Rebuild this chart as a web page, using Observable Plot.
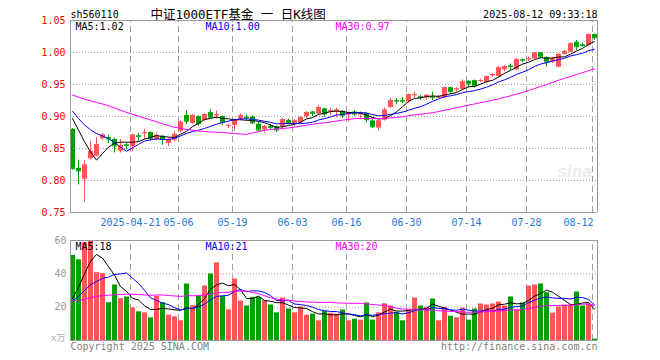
<!DOCTYPE html>
<html><head><meta charset="utf-8">
<script src="https://cdn.jsdelivr.net/npm/d3@7"></script>
<script src="https://cdn.jsdelivr.net/npm/@observablehq/plot@0.6"></script>
<style>
body{margin:0;background:#fff;}
#wrap{width:660px;height:360px;overflow:hidden;background:#fff;}
#wrap svg{display:block;}
</style></head><body>
<div id="wrap"></div>
<script>
const dates = [
"2025-04-07","2025-04-08","2025-04-09","2025-04-10","2025-04-11","2025-04-14","2025-04-15","2025-04-16","2025-04-17","2025-04-18",
"2025-04-21","2025-04-22","2025-04-23","2025-04-24","2025-04-25","2025-04-28","2025-04-29","2025-04-30",
"2025-05-06","2025-05-07","2025-05-08","2025-05-09","2025-05-12","2025-05-13","2025-05-14","2025-05-15","2025-05-16",
"2025-05-19","2025-05-20","2025-05-21","2025-05-22","2025-05-23","2025-05-26","2025-05-27","2025-05-28","2025-05-29","2025-05-30",
"2025-06-03","2025-06-04","2025-06-05","2025-06-06","2025-06-09","2025-06-10","2025-06-11","2025-06-12","2025-06-13",
"2025-06-16","2025-06-17","2025-06-18","2025-06-19","2025-06-20","2025-06-23","2025-06-24","2025-06-25","2025-06-26","2025-06-27",
"2025-06-30","2025-07-01","2025-07-02","2025-07-03","2025-07-04","2025-07-07","2025-07-08","2025-07-09","2025-07-10","2025-07-11",
"2025-07-14","2025-07-15","2025-07-16","2025-07-17","2025-07-18","2025-07-21","2025-07-22","2025-07-23","2025-07-24","2025-07-25",
"2025-07-28","2025-07-29","2025-07-30","2025-07-31","2025-08-01","2025-08-04","2025-08-05","2025-08-06","2025-08-07","2025-08-08",
"2025-08-11","2025-08-12"];

const open = [0.880,0.819,0.802,0.834,0.838,0.865,0.867,0.864,0.846,0.856,
0.853,0.870,0.873,0.875,0.864,0.869,0.858,0.863,0.877,0.9015,
0.889,0.900,0.894,0.906,0.901,0.900,0.885,0.886,0.896,0.899,
0.899,0.888,0.879,0.885,0.884,0.884,0.894,0.888,0.890,0.8995,
0.907,0.904,0.912,0.907,0.908,0.908,0.902,0.907,0.903,0.905,
0.893,0.882,0.894,0.914,0.925,0.925,0.923,0.933,0.931,0.929,
0.931,0.929,0.929,0.945,0.942,0.942,0.955,0.956,0.955,0.953,
0.964,0.9625,0.973,0.979,0.973,0.989,0.989,0.990,0.9995,0.992,
0.985,0.977,0.997,1.0005,1.016,1.012,1.011,1.028];

const high = [0.881,0.832,0.831,0.861,0.867,0.874,0.871,0.866,0.864,0.858,
0.872,0.874,0.880,0.876,0.874,0.870,0.866,0.876,0.893,0.909,
0.903,0.901,0.904,0.911,0.909,0.901,0.888,0.896,0.904,0.902,
0.901,0.891,0.886,0.888,0.885,0.897,0.896,0.895,0.900,0.908,
0.908,0.917,0.913,0.913,0.913,0.909,0.907,0.909,0.907,0.906,
0.895,0.893,0.913,0.928,0.928,0.930,0.935,0.938,0.933,0.934,
0.938,0.933,0.946,0.946,0.945,0.957,0.956,0.957,0.958,0.963,
0.967,0.978,0.979,0.982,0.991,0.990,0.993,1.000,1.000,0.993,
0.992,0.998,1.003,1.015,1.019,1.015,1.029,1.029];

const low = [0.816,0.793,0.766,0.832,0.837,0.863,0.858,0.843,0.843,0.848,
0.845,0.861,0.864,0.861,0.862,0.855,0.853,0.861,0.874,0.887,
0.888,0.885,0.892,0.897,0.896,0.886,0.881,0.877,0.893,0.894,
0.887,0.877,0.874,0.879,0.875,0.879,0.887,0.884,0.889,0.897,
0.900,0.903,0.899,0.901,0.898,0.897,0.891,0.900,0.895,0.890,
0.881,0.878,0.893,0.913,0.918,0.920,0.921,0.928,0.925,0.925,
0.925,0.928,0.928,0.935,0.938,0.941,0.945,0.944,0.953,0.952,
0.961,0.961,0.970,0.972,0.972,0.984,0.986,0.989,0.991,0.977,
0.983,0.976,0.996,1.000,1.003,1.008,1.010,1.019];

const close = [0.819,0.815,0.824,0.845,0.856,0.871,0.865,0.854,0.854,0.855,
0.871,0.869,0.875,0.866,0.870,0.864,0.864,0.872,0.891,0.8925,
0.9015,0.889,0.903,0.899,0.903,0.891,0.886,0.894,0.901,0.898,
0.890,0.879,0.884,0.883,0.879,0.895,0.889,0.893,0.898,0.906,
0.905,0.914,0.904,0.909,0.910,0.902,0.906,0.904,0.904,0.895,
0.884,0.893,0.910,0.925,0.924,0.924,0.934,0.934,0.930,0.933,
0.930,0.930,0.945,0.939,0.943,0.954,0.951,0.948,0.956,0.9625,
0.965,0.976,0.978,0.978,0.989,0.988,0.990,0.999,0.993,0.985,
0.990,0.997,1.0015,1.0135,1.009,1.011,1.028,1.023];

// volume in 万手
const volume = [51.0,48.4,58.5,59.5,40.7,40.1,22.7,33.3,25.1,26.1,
19.6,17.2,16.6,13.6,26.5,22.7,15.2,14.2,11.8,33.9,
20.8,26.7,32.7,39.9,46.6,26.5,18.4,36.9,23.7,20.7,
25.9,25.9,23.9,21.3,16.6,25.5,18.9,16.6,20.1,15.2,
15.8,11.8,17.5,16.3,15.8,18.3,11.8,12.8,12.2,22.5,
12.2,16.6,22.0,20.7,17.0,11.8,18.4,25.5,20.7,19.9,
24.9,11.8,19.9,14.6,13.6,19.3,12.2,18.9,21.9,21.3,
21.9,23.1,20.7,26.1,18.3,22.5,32.7,33.3,33.9,28.7,
16.4,20.1,21.3,21.3,29.1,20.7,21.9,0.8];

// sessions before the first visible bar (feed the moving averages only)
const priorClose = [0.918,0.915,0.922,0.930,0.945,0.952,0.958,0.955,0.960,0.957,0.962,0.958,0.955,0.960,0.953,0.950,0.948,0.945,0.942,0.938,0.930,0.925,0.920,0.915,0.910,0.905,0.915,0.925,0.920];
const priorVolume = [45,40,24,22,20,21,23,22,19,20,24,22,21,20,23,25,22,21,20,22,24,22,25,21,21,15,18,22,20];

const tickDates = ["2025-04-21","2025-05-06","2025-05-19","2025-06-03","2025-06-16","2025-06-30","2025-07-14","2025-07-28","2025-08-12"];
const priceTicks = [0.75,0.80,0.85,0.90,0.95,1.00,1.05];
const volumeTicks = [20,40,60];
const maPeriods = [5,10,30];
const maColors = ["#000000","#0000ff","#ff00ff"];
const priceMaText = ["MA5:1.02","MA10:1.00","MA30:0.97"];
const volumeMaText = ["MA5:18","MA10:21","MA30:20"];
const titleCode = "sh560110";
const titleName = "中证1000ETF基金 一 日K线图";
const timeStamp = "2025-08-12 09:33:18";
const copyright = "Copyright 2025 SINA.COM";
const siteUrl = "http://finance.sina.com.cn";
const volumeUnit = "x万";

const UP = "#ff5555", DOWN = "#00a000";
const MONO = "DejaVu Sans Mono";
const GRID = "#a0a0a0";

const bars = dates.map((d, i) => ({
  i, date: d, o: open[i], h: high[i], l: low[i], c: close[i], v: volume[i],
  col: close[i] >= open[i] ? UP : DOWN
}));

function movingAverage(prior, vals, n) {
  const all = prior.concat(vals);
  return vals.map((_, i) => {
    const end = prior.length + i + 1;
    return d3.mean(all.slice(end - n, end));
  });
}
function maRows(prior, vals) {
  const rows = [];
  maPeriods.forEach((n, k) => {
    movingAverage(prior, vals, n).forEach((v, i) => rows.push({i, v, k, color: maColors[k]}));
  });
  return rows;
}
const priceMA = maRows(priorClose, close);
const volumeMA = maRows(priorVolume, volume);

const ticks = tickDates.map((d, j) => ({i: dates.indexOf(d), label: j === 0 ? d : d.slice(5)}));
const N = dates.length;
const xEnd = N - 1/6;
const cx = d => d.i + 1/3;

const base = {
  width: 660, marginLeft: 70, marginRight: 62,
  x: {domain: [0, N], axis: null},
  color: {type: "identity"},
  style: {fontFamily: MONO, fontSize: "10px", background: "transparent", overflow: "visible"}
};

function frameMarks(y0, y1) {
  return [
    Plot.ruleY([y0, y1], {x1: 0, x2: xEnd, stroke: "#999"}),
    Plot.ruleX([0, xEnd], {y1: y0, y2: y1, stroke: "#999"})
  ];
}
function maLabels(texts) {
  return texts.map((t, j) => Plot.text([t], {
    frameAnchor: "top-left", textAnchor: "start", lineAnchor: "bottom",
    dx: 5 + 130 * j, dy: 9.5, fill: maColors[j], fontFamily: MONO, fontSize: 10
  }));
}

const pricePlot = Plot.plot({
  ...base,
  height: 230, marginTop: 20, marginBottom: 18,
  y: {domain: [0.75, 1.05], axis: null},
  marks: [
    Plot.ruleY(priceTicks.slice(1, -1), {x1: 0, x2: xEnd, stroke: GRID, strokeDasharray: "1,2"}),
    Plot.ruleX(ticks, {x: "i", y1: 0.75, y2: 1.05, stroke: GRID, strokeDasharray: "6,4"}),
    Plot.text(["sina"], {frameAnchor: "top-right", textAnchor: "end", dx: -6, dy: 146, fill: "#ececec", fontFamily: "DejaVu Sans", fontWeight: "bold", fontStyle: "italic", fontSize: 15}),
    Plot.ruleX(bars, {x: cx, y1: "l", y2: "h", stroke: "col"}),
    Plot.rect(bars, {x1: "i", x2: d => d.i + 1, y1: d => Math.min(d.o, d.c), y2: d => Math.max(d.o, d.c), fill: "col", insetRight: 1}),
    Plot.ruleY(bars, {y: "c", x1: "i", x2: d => d.i + 5/6, stroke: "col"}),
    Plot.line(priceMA, {x: cx, y: "v", z: "k", stroke: "color", strokeWidth: 1}),
    ...frameMarks(0.75, 1.05),
    Plot.text(priceTicks, {x: 0, y: d => d, text: d => d.toFixed(2), textAnchor: "end", dx: -5, fill: "#ff0000", fontFamily: MONO, fontSize: 10}),
    Plot.text(ticks.slice(0, -1), {x: "i", y: 0.75, text: "label", dy: 10, fill: "#1f78d1", fontFamily: MONO, fontSize: 10}),
    Plot.text(ticks.slice(-1), {x: "i", y: 0.75, text: "label", dy: 10, dx: 1, textAnchor: "end", fill: "#1f78d1", fontFamily: MONO, fontSize: 10}),
    Plot.text([titleCode], {frameAnchor: "top-left", textAnchor: "start", lineAnchor: "bottom", dy: -3, fill: "#000", fontFamily: MONO, fontSize: 10}),
    Plot.text([titleName], {frameAnchor: "top-left", textAnchor: "start", lineAnchor: "bottom", dx: 80, dy: -2, fill: "#000", fontFamily: `${MONO}, "Noto Sans CJK SC"`, fontSize: 12.5}),
    Plot.text([timeStamp], {frameAnchor: "top-right", textAnchor: "end", lineAnchor: "bottom", dx: -1, dy: -3, fill: "#000", fontFamily: MONO, fontSize: 10}),
    ...maLabels(priceMaText)
  ]
});

const volumePlot = Plot.plot({
  ...base,
  height: 130, marginTop: 10, marginBottom: 20,
  y: {domain: [0, 60], axis: null},
  marks: [
    Plot.ruleY(volumeTicks.slice(0, -1), {x1: 0, x2: xEnd, stroke: GRID, strokeDasharray: "1,2"}),
    Plot.ruleX(ticks, {x: "i", y1: 0, y2: 60, stroke: GRID, strokeDasharray: "6,4"}),
    Plot.rectY(bars, {x1: "i", x2: d => d.i + 1, y: "v", fill: "col", insetRight: 1}),
    Plot.line(volumeMA, {x: cx, y: "v", z: "k", stroke: "color", strokeWidth: 1}),
    ...frameMarks(0, 60),
    Plot.text(volumeTicks, {x: 0, y: d => d, text: d => String(d), textAnchor: "end", dx: -4, fill: "#999", fontFamily: MONO, fontSize: 10}),
    Plot.text([volumeUnit], {frameAnchor: "bottom-left", textAnchor: "end", dx: -5, dy: 0, fill: "#aaa", fontFamily: `${MONO}, "Noto Sans CJK SC"`, fontSize: 9}),
    ...maLabels(volumeMaText),
    Plot.text([copyright], {frameAnchor: "bottom-left", textAnchor: "start", lineAnchor: "bottom", dy: 9, fill: "#808080", fontFamily: MONO, fontSize: 10}),
    Plot.text([siteUrl], {frameAnchor: "bottom-right", textAnchor: "end", lineAnchor: "bottom", dx: -1, dy: 9, fill: "#808080", fontFamily: MONO, fontSize: 10})
  ]
});

const wrap = document.getElementById("wrap");
wrap.appendChild(pricePlot);
wrap.appendChild(volumePlot);
</script>
</body></html>
